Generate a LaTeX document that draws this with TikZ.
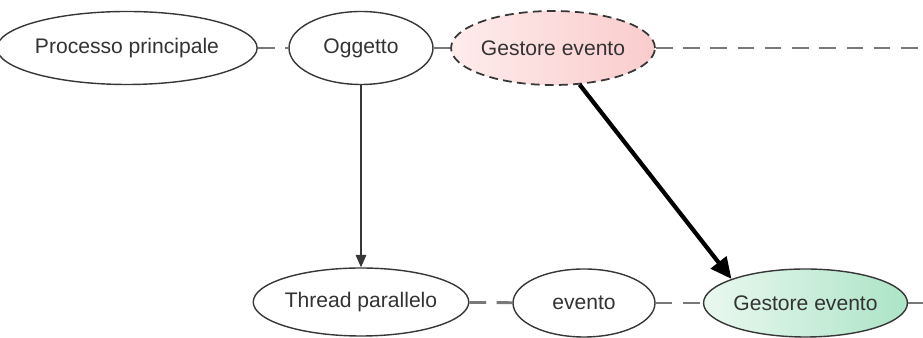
\documentclass[tikz,border=0pt]{standalone}
\usepackage{fontspec}
\setmainfont{Liberation Sans}
\usetikzlibrary{arrows.meta,positioning,shapes.geometric}
\definecolor{fg}{RGB}{51,51,51}
\definecolor{rim}{RGB}{55,55,55}
\definecolor{mu}{RGB}{120,120,120}
\definecolor{pinkL}{RGB}{254,236,236}
\definecolor{pinkR}{RGB}{250,204,204}
\definecolor{mintL}{RGB}{234,248,240}
\definecolor{mintR}{RGB}{172,228,198}
\tikzset{
  every picture/.style={line cap=butt, line join=round},
  every node/.style={font=\fontsize{12}{14}\selectfont, text=fg},
  % Knoten
  oval/.style={ellipse, draw=rim, line width=0.8pt, inner sep=0pt,
    minimum height=1.46cm, fill=white},
  obj/.style={oval, dash pattern=on 5pt off 3pt, line width=1pt,
    left color=pinkL, right color=pinkR},
  hit/.style={oval, left color=mintL, right color=mintR},
  % Verbindungen
  link/.style={mu, line width=1.6pt, dash pattern=on 9.5pt off 6pt},
  flow/.style={rim, line width=0.8pt, -{Triangle[length=7pt,width=6pt]}},
  jump/.style={black, line width=2.4pt, -{Triangle[length=12pt,width=11pt]}},
}
\begin{document}
\begin{tikzpicture}
  \useasboundingbox (0,0) rectangle (18.46,6.76);
  % obere Reihe
  \node[oval, minimum width=4.8cm] (main) at (2.54,5.8) {Processo principale};
  \node[oval, minimum width=2.88cm] (ogg) at (7.22,5.8) {Oggetto};
  \node[obj, minimum width=4.0cm, minimum height=1.48cm] (gest) at (11.06,5.8) {Gestore evento};
  \coordinate (edgeA) at (18.46,5.8);
  % untere Reihe
  \node[oval, minimum width=4.16cm, minimum height=1.36cm] (thr) at (7.22,0.72) {Thread parallelo};
  \node[oval, minimum width=2.84cm, minimum height=1.36cm] (ev) at (11.68,0.70) {evento};
  \node[hit, minimum width=4.02cm, minimum height=1.36cm] (gest2) at (16.11,0.70) {Gestore evento};
  \coordinate (edgeB) at (18.46,0.70);
  % Verbindungen
  \draw[link] (main) -- (ogg);
  \draw[link] (ogg) -- (gest);
  \draw[link] (gest) -- (edgeA);
  \draw[link] (thr) -- (ev);
  \draw[link] (ev) -- (gest2);
  \draw[link] (gest2) -- (edgeB);
  \draw[flow] (ogg) -- (thr);
  \draw[jump] (gest.-54) -- (gest2.162);
\end{tikzpicture}
\end{document}
